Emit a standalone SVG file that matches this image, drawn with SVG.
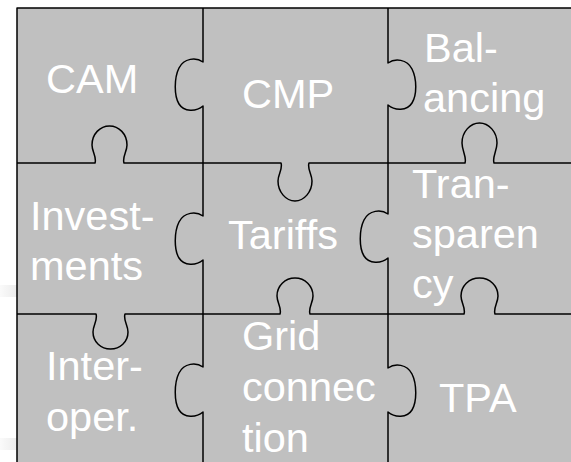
<svg xmlns="http://www.w3.org/2000/svg" width="571" height="462" viewBox="0 0 571 462">
<defs>
<style>
.edge{fill:none;stroke:#000;stroke-width:1.5;stroke-linejoin:round}
.lbl{fill:#fff;font-family:"Liberation Sans",Arial,sans-serif;font-size:41.5px}
</style>
<linearGradient id="smudge" x1="0" y1="0" x2="1" y2="0">
<stop offset="0" stop-color="#fafafa"/>
<stop offset="1" stop-color="#ececec"/>
</linearGradient>
</defs>
<rect width="571" height="462" fill="#fff"/>
<rect x="0" y="285" width="17" height="12" fill="url(#smudge)"/>
<rect x="0" y="438" width="17" height="12" fill="url(#smudge)"/>
<rect id="board" x="17" y="8" width="560" height="460" fill="#c0c0c0"/>
<g id="connectors">
<path class="edge" d="M17,470 V8 H575"/>
<path class="edge" d="M203,8 V62 C196,57 184,58 179,68 C174,78 174,96 179,104 C184,112 196,112 203,106 V216 C196,211 184,212 179,222 C174,232 174,250 179,258 C184,266 196,266 203,260 V367 C196,362 184,363 179,373 C174,383 174,402 179,410 C184,418 196,418 203,412 V470"/>
<path class="edge" d="M388,8 V63 C395,58 407,59 412,69 C417,79 417,95 412,103 C407,111 395,111 388,105 V214 C381,209 369,210 364,220 C359,230 359,248 364,256 C369,264 381,264 388,258 V368 C395,363 407,364 412,374 C417,384 417,402 412,410 C407,418 395,418 388,412 V470"/>
<path class="edge" d="M17,163 H95 C97,157 92,152 92,145 C92,134 100,126 109.5,126 C119,126 127,134 127,145 C127,152 122,157 124,163 H281 C283,169 278,174 278,181 C278,192 286,201 295,201 C304,201 312,192 312,181 C312,174 307,169 309,163 H465 C467,157 462,151 462,143 C462,132 470,123 479.5,123 C489,123 497,132 497,143 C497,151 492,157 494,163 H575"/>
<path class="edge" d="M17,314 H96 C98,320 93,325 93,332 C93,342 101,349 110.5,349 C120,349 128,342 128,332 C128,325 123,320 125,314 H280 C282,308 277,303 277,296 C277,286 285,278 295,278 C305,278 313,286 313,296 C313,303 308,308 310,314 H464 C466,308 461,303 461,296 C461,286 469,278 479.5,278 C490,278 498,286 498,296 C498,303 493,308 495,314 H575"/>
</g>
<g id="cam"><text class="lbl" x="46" y="93">CAM</text></g>
<g id="cmp"><text class="lbl" x="242" y="108">CMP</text></g>
<g id="balancing"><text class="lbl" x="424" y="62">Bal-</text><text class="lbl" x="423" y="112">ancing</text></g>
<g id="investments"><text class="lbl" x="30" y="230">Invest-</text><text class="lbl" x="30" y="280">ments</text></g>
<g id="tariffs"><text class="lbl" x="228" y="249">Tariffs</text></g>
<g id="transparency"><text class="lbl" x="412" y="198">Tran-</text><text class="lbl" x="412" y="248">sparen</text><text class="lbl" x="412" y="298">cy</text></g>
<g id="interoper"><text class="lbl" x="46" y="380">Inter-</text><text class="lbl" x="46" y="431">oper.</text></g>
<g id="grid-connection"><text class="lbl" x="242" y="350">Grid</text><text class="lbl" x="242" y="401">connec</text><text class="lbl" x="242" y="452">tion</text></g>
<g id="tpa"><text class="lbl" x="439" y="412">TPA</text></g>
</svg>
